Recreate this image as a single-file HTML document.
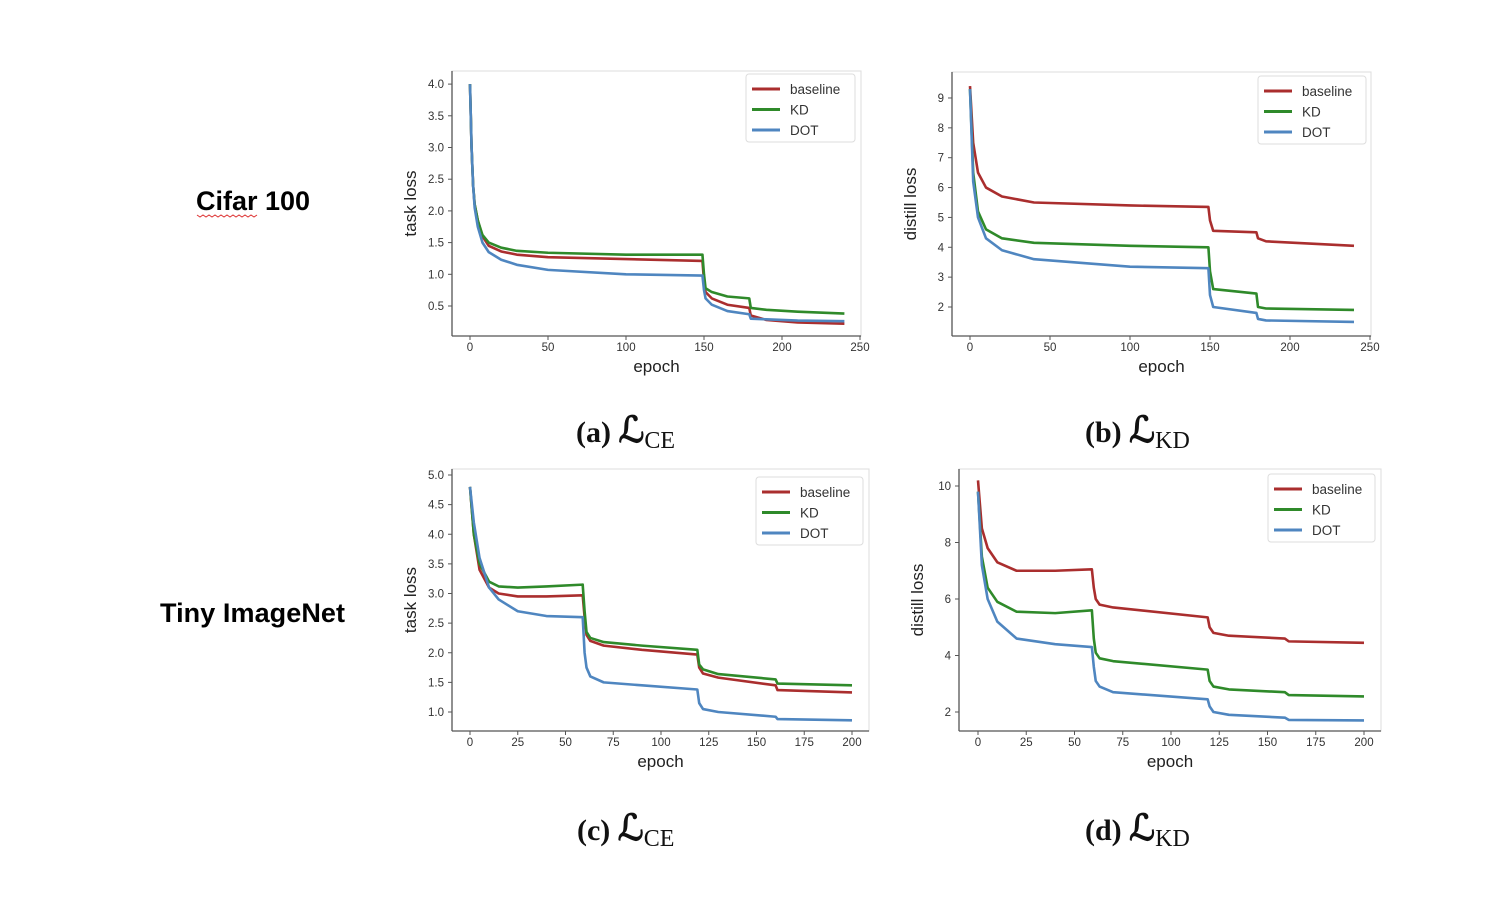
<!DOCTYPE html>
<html><head><meta charset="utf-8"><style>
body{margin:0;background:#fff;width:1510px;height:922px;overflow:hidden;font-family:"Liberation Sans",sans-serif}
svg{position:absolute;left:0;top:0}
</style></head><body>
<svg id="s" width="1510" height="922" xmlns="http://www.w3.org/2000/svg">
<text x="196" y="210" font-size="27" font-weight="bold" fill="#000" textLength="114">Cifar 100</text>
<path d="M197 215 l3 2 l3 -2 l3 2 l3 -2 l3 2 l3 -2 l3 2 l3 -2 l3 2 l3 -2 l3 2 l3 -2 l3 2 l3 -2 l3 2 l3 -2 l3 2 l3 -2 l3 2 l3 -2" fill="none" stroke="#d33" stroke-width="1"/>
<text x="160" y="622" font-size="27" font-weight="bold" fill="#000" textLength="185">Tiny ImageNet</text>
</svg>
<script>
const epA=[0,1,2,3,5,8,12,20,30,50,100,149,150,151,155,165,179,180,190,210,240];
const baseA=[4.0,3.0,2.4,2.1,1.85,1.6,1.45,1.36,1.31,1.27,1.24,1.21,0.9,0.72,0.62,0.52,0.47,0.35,0.28,0.24,0.22];
const kdA=[4.0,3.0,2.4,2.1,1.85,1.62,1.5,1.42,1.37,1.34,1.31,1.31,1.0,0.78,0.72,0.65,0.62,0.47,0.44,0.41,0.38];
const dotA=[4.0,3.0,2.4,2.05,1.75,1.5,1.35,1.23,1.15,1.07,1.0,0.98,0.75,0.62,0.52,0.42,0.37,0.3,0.29,0.27,0.26];
const epB=[0,2,5,10,20,40,100,149,150,152,179,180,185,240];
const baseB=[9.4,7.5,6.5,6.0,5.7,5.5,5.4,5.35,4.9,4.55,4.5,4.3,4.2,4.05];
const kdB=[9.3,6.5,5.2,4.6,4.3,4.15,4.05,4.0,3.2,2.6,2.45,2.0,1.95,1.9];
const dotB=[9.3,6.2,5.0,4.3,3.9,3.6,3.35,3.3,2.4,2.0,1.8,1.6,1.55,1.5];
const epC=[0,2,5,10,15,25,40,59,60,61,63,70,90,119,120,122,130,160,161,200];
const baseC=[4.8,4.0,3.4,3.1,3.0,2.95,2.95,2.97,2.6,2.3,2.2,2.12,2.05,1.97,1.75,1.65,1.58,1.45,1.37,1.33];
const kdC=[4.8,4.0,3.5,3.2,3.12,3.1,3.12,3.15,2.7,2.35,2.25,2.18,2.12,2.05,1.8,1.72,1.64,1.55,1.48,1.45];
const dotC=[4.8,4.2,3.6,3.1,2.9,2.7,2.62,2.6,2.0,1.75,1.6,1.5,1.45,1.38,1.15,1.05,1.0,0.92,0.88,0.86];
const epD=[0,2,5,10,20,40,59,60,61,63,70,119,120,122,130,159,161,200];
const baseD=[10.2,8.5,7.8,7.3,7.0,7.0,7.05,6.4,6.0,5.8,5.7,5.35,5.0,4.8,4.7,4.6,4.5,4.45];
const kdD=[9.8,7.5,6.4,5.9,5.55,5.5,5.6,4.6,4.1,3.9,3.8,3.5,3.1,2.9,2.8,2.7,2.6,2.55];
const dotD=[9.8,7.2,6.0,5.2,4.6,4.4,4.3,3.6,3.1,2.9,2.7,2.45,2.2,2.0,1.9,1.8,1.72,1.7];
const xtA=[0,50,100,150,200,250], ytA=[0.5,1.0,1.5,2.0,2.5,3.0,3.5,4.0];
const xtB=[0,50,100,150,200,250], ytB=[2,3,4,5,6,7,8,9];
const xtC=[0,25,50,75,100,125,150,175,200], ytC=[1.0,1.5,2.0,2.5,3.0,3.5,4.0,4.5,5.0];
const xtD=[0,25,50,75,100,125,150,175,200], ytD=[2,4,6,8,10];

const NS="http://www.w3.org/2000/svg", svg=document.getElementById('s');
function mk(tag,at,parent){const e=document.createElementNS(NS,tag);for(const k in at)e.setAttribute(k,at[k]);(parent||svg).appendChild(e);return e;}
const COL={baseline:'#aa2e2e',KD:'#2f8a2a',DOT:'#4f86c0'};
function chart(id,box,xm,ym,ep,series,xt,yt,ylab,dec,leg,cap,sub){
 const g=mk('g',{});
 
 
 const X=v=>xm[0]+(v-xm[1])*xm[2], Y=v=>ym[0]-(v-ym[1])*ym[2];
 const fr=mk('rect',{x:box[0],y:box[1],width:box[2]-box[0],height:box[3]-box[1],fill:'#fff',stroke:'#ddd','stroke-width':1},g);
 
 
 mk('line',{x1:box[0],y1:box[1],x2:box[0],y2:box[3],stroke:'#555','stroke-width':1.3},g);
 mk('line',{x1:box[0],y1:box[3],x2:box[2],y2:box[3],stroke:'#555','stroke-width':1.3},g);
 xt.forEach(v=>{const x=X(v);mk('line',{x1:x,y1:box[3],x2:x,y2:box[3]+4,stroke:'#555'},g);
  const t=mk('text',{x:x,y:box[3]+15,'font-size':11.5,'text-anchor':'middle',fill:'#333'},g);t.textContent=v;
  
  });
 yt.forEach(v=>{const y=Y(v);mk('line',{x1:box[0]-4,y1:y,x2:box[0],y2:y,stroke:'#555'},g);
  const t=mk('text',{x:box[0]-8,y:y+4,'font-size':11.5,'text-anchor':'end',fill:'#333'},g);t.textContent=v.toFixed(dec);
  
  });
 const xl=mk('text',{x:(box[0]+box[2])/2,y:box[3]+36,'font-size':17,'text-anchor':'middle',fill:'#222'},g);xl.textContent='epoch';
 
 
 const yc=(box[1]+box[3])/2, yx=box[0]-36;
 const yl=mk('text',{x:yx,y:yc,'font-size':17,'text-anchor':'middle',fill:'#222',transform:`rotate(-90 ${yx} ${yc})`},g);yl.textContent=ylab;
 
 
 ['baseline','KD','DOT'].forEach((n,i)=>{
  const p=mk('polyline',{points:ep.map((e,j)=>X(e)+','+Y(series[i][j])).join(' '),fill:'none',stroke:COL[n],'stroke-width':2.6,'stroke-linejoin':'round'},g);
  
  
 });
 const lg=mk('g',{},g);
 
 
 mk('rect',{x:leg[0],y:leg[1],width:leg[2],height:68,fill:'#fff',stroke:'#ddd',rx:3},lg);
 ['baseline','KD','DOT'].forEach((n,i)=>{const y=leg[1]+15+i*20.5;
  mk('line',{x1:leg[0]+6,y1:y,x2:leg[0]+34,y2:y,stroke:COL[n],'stroke-width':3},lg);
  const t=mk('text',{x:leg[0]+44,y:y+5,'font-size':13.5,fill:'#333'},lg);t.textContent=n;
  
  });
 const c=mk('text',{x:cap[0],y:cap[1],'font-size':30,'font-family':'Liberation Serif,serif',fill:'#111'},g);
 
 
 const a=mk('tspan',{'font-weight':'bold'},c);a.textContent=sub[0]+' ';
 const b=mk('tspan',{'font-size':36,'font-weight':'bold','font-family':'DejaVu Serif,serif'},c);b.textContent='ℒ';
 const d=mk('tspan',{'font-size':24,dy:6},c);d.textContent=sub[1];
}
chart('chart-a-cifar-ce',[452,71,861,336],[470,0,1.56],[306,0.5,63.4],epA,[baseA,kdA,dotA],xtA,ytA,'task loss',1,[746,74,109],[576,442],['(a)','CE']);
chart('chart-b-cifar-kd',[952,72,1371,336],[970,0,1.6],[307,2,29.86],epB,[baseB,kdB,dotB],xtB,ytB,'distill loss',0,[1258,76,108],[1085,442],['(b)','KD']);
chart('chart-c-tiny-ce',[452,469,869,731],[470,0,1.91],[712,1.0,59.25],epC,[baseC,kdC,dotC],xtC,ytC,'task loss',1,[756,477,107],[577,840],['(c)','CE']);
chart('chart-d-tiny-kd',[959,469,1381,731],[978,0,1.93],[712,2,28.25],epD,[baseD,kdD,dotD],xtD,ytD,'distill loss',0,[1268,474,107],[1085,840],['(d)','KD']);
</script>
</body></html>
